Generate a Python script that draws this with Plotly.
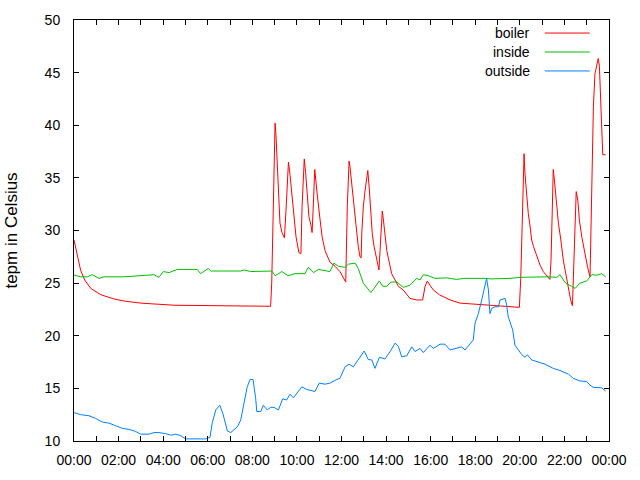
import plotly.graph_objects as go

# hours since midnight, values in degrees Celsius
boiler_hours = [0.00, 0.13, 0.30, 0.48, 0.75, 1.20, 1.79, 2.24, 2.99, 4.49, 5.97, 7.45, 8.82,
                8.87, 8.91, 8.94, 8.97, 9.02, 9.06, 9.11, 9.15, 9.20, 9.24, 9.33, 9.44,
                9.51, 9.56, 9.62, 9.69, 9.78, 9.87, 9.96, 10.09, 10.18,
                10.23, 10.29, 10.33, 10.39, 10.45, 10.54, 10.63, 10.68,
                10.74, 10.80, 10.89, 10.96, 11.04, 11.13, 11.26, 11.48, 11.71, 11.93, 12.19,
                12.26, 12.34, 12.38, 12.46, 12.53, 12.61, 12.68, 12.75, 12.83, 12.88,
                12.91, 12.98, 13.06, 13.13, 13.18, 13.25, 13.31, 13.38, 13.46, 13.55, 13.68,
                13.73, 13.79, 13.83, 13.88, 13.95, 14.03, 14.15, 14.25, 14.40, 14.55, 14.77,
                14.93, 15.07, 15.37, 15.64, 15.75, 15.85, 15.97, 16.12, 16.39, 16.87, 17.32,
                17.91, 18.66, 19.41, 19.98,
                20.04, 20.10, 20.14, 20.19, 20.23, 20.31, 20.38, 20.46, 20.53, 20.61, 20.76,
                20.91, 21.05, 21.21, 21.35,
                21.40, 21.46, 21.50, 21.55, 21.62, 21.73, 21.84, 21.95, 22.06, 22.18, 22.28, 22.36,
                22.40, 22.48, 22.53, 22.60, 22.67, 22.78, 22.92, 23.03, 23.15,
                23.18, 23.24, 23.30, 23.37, 23.45, 23.52, 23.57, 23.61, 23.66, 23.69, 23.72, 23.85]
boiler_temp = [29.1, 27.7, 26.2, 25.3, 24.5, 23.9, 23.5, 23.3, 23.1, 22.9, 22.85, 22.8, 22.8,
               25.0, 29.4, 33.7, 37.9, 40.2, 39.1, 37.0, 34.1, 32.2, 30.7, 29.8, 29.3,
               31.9, 34.5, 36.5, 35.3, 33.2, 31.0, 29.4, 27.9, 27.8,
               32.2, 35.1, 36.8, 35.5, 33.6, 31.3, 30.5, 29.8,
               32.6, 35.8, 33.85, 32.3, 31.0, 29.4, 28.1, 27.0, 26.6, 26.1, 25.1,
               32.3, 36.6, 36.06, 34.5, 32.9, 31.3, 29.7, 28.5, 27.5, 27.4,
               29.75, 32.3, 33.85, 35.1, 35.7, 33.85, 31.7, 29.7, 28.5, 27.5, 26.25,
               28.1, 31.0, 31.85, 31.0, 29.4, 28.1, 26.9, 25.9, 25.3, 24.7, 24.35,
               23.9, 23.55, 23.4, 23.4, 24.7, 25.2, 24.8, 24.35, 23.9, 23.4, 23.1,
               23.0, 22.9, 22.8, 22.7,
               25.4, 31.3, 35.4, 37.3, 35.4, 33.2, 31.6, 30.4, 29.1, 28.5, 27.5,
               26.7, 26.1, 25.7, 25.35,
               27.2, 31.3, 35.8, 34.8, 32.9, 30.7, 29.1, 27.2, 25.9, 24.35, 23.4, 22.85,
               25.3, 30.7, 33.7, 32.9, 31.0, 29.4, 27.8, 26.6, 25.6,
               29.1, 35.0, 41.8, 44.9, 45.6, 46.35, 45.6, 43.0, 40.5, 38.4, 37.2, 37.2]

inside_hours = [0.00, 0.30, 0.60, 0.82, 1.12, 1.35, 2.24, 3.22, 3.59, 3.81, 4.01, 4.26, 4.63,
                5.53, 5.68, 6.03, 6.13, 7.48, 7.63, 7.93, 8.38, 8.88, 9.02, 9.32, 9.61,
                9.91, 10.36, 10.51, 10.74, 10.96, 11.48, 11.66, 11.86, 12.16, 12.31, 12.61,
                12.75, 12.98, 13.32, 13.70, 13.85, 14.03, 14.21, 14.48, 14.77, 15.07, 15.37,
                15.52, 15.67, 15.90, 16.20, 16.72, 17.17, 17.47, 18.51, 18.66, 19.56, 20.01,
                21.21, 21.66, 21.80, 22.03, 22.48, 22.70, 23.00, 23.23, 23.45, 23.67, 23.85]
inside_temp = [25.77, 25.6, 25.6, 25.8, 25.45, 25.6, 25.6, 25.7, 25.8, 25.55, 26.1, 26.0, 26.3,
               26.3, 25.9, 26.4, 26.15, 26.15, 26.25, 26.1, 26.15, 26.15, 25.7, 26.1, 25.7,
               25.9, 25.9, 26.5, 26.0, 26.3, 26.1, 26.9, 26.6, 26.5, 26.8, 26.9,
               26.4, 25.0, 24.1, 25.2, 24.7, 24.7, 25.1, 25.1, 24.6, 24.8, 25.45,
               25.3, 25.8, 25.7, 25.45, 25.5, 25.35, 25.45, 25.45, 25.4, 25.45, 25.55,
               25.6, 25.55, 25.8, 25.05, 24.5, 25.0, 25.2, 25.8, 25.75, 25.9, 25.6]

outside_hours = [0.00, 0.30, 0.67, 0.97, 1.27, 1.57, 1.87, 2.17, 2.47, 2.77, 2.99, 3.36, 3.59,
                 3.81, 4.11, 4.34, 4.56, 4.79, 5.01, 5.91, 6.10, 6.20, 6.36, 6.54, 6.68, 6.88,
                 7.03, 7.33, 7.48, 7.63, 7.77, 7.90, 8.03, 8.15, 8.20, 8.38, 8.49, 8.67, 8.82,
                 8.97, 9.17, 9.36, 9.54, 9.69, 9.84, 10.22, 10.44, 10.81, 11.00, 11.26, 11.48,
                 11.79, 11.93, 12.16, 12.34, 12.53, 12.75, 13.02, 13.20, 13.36, 13.50, 13.70,
                 13.95, 14.18, 14.40, 14.55, 14.70, 14.93, 15.15, 15.30, 15.52, 15.67, 15.97,
                 16.12, 16.42, 16.64, 16.87, 17.17, 17.39, 17.54, 17.73, 17.91, 17.99, 18.14,
                 18.29, 18.51, 18.59, 18.66, 18.74, 18.89, 19.04, 19.11, 19.34, 19.41, 19.48,
                 19.56, 19.68, 19.78, 19.89, 20.09, 20.23, 20.34, 20.53, 20.76, 21.13, 21.50,
                 21.80, 22.18, 22.40, 22.70, 23.00, 23.15, 23.30, 23.67, 23.85]
outside_temp = [12.7, 12.5, 12.4, 12.15, 11.8, 11.7, 11.45, 11.2, 11.1, 10.9, 10.65, 10.65, 10.8,
                10.8, 10.7, 10.55, 10.65, 10.5, 10.2, 10.2, 10.35, 11.7, 12.95, 13.4, 12.6, 10.95,
                10.8, 11.35, 12.0, 13.6, 15.15, 15.85, 15.85, 14.05, 12.8, 12.8, 13.4, 12.95, 13.2,
                13.2, 12.95, 14.0, 13.9, 14.45, 14.1, 15.15, 14.9, 14.7, 15.5, 15.4, 15.5,
                15.85, 15.95, 17.05, 17.3, 17.05, 17.7, 18.55, 17.75, 17.7, 16.9, 17.95,
                17.8, 18.5, 19.3, 19.0, 18.0, 18.1, 18.95, 18.5, 18.8, 18.4, 19.1,
                18.8, 19.2, 19.2, 18.65, 18.8, 18.95, 18.65, 19.1, 19.6, 21.2, 22.1,
                23.4, 25.45, 24.35, 22.1, 22.6, 22.75, 22.75, 23.4, 23.55, 22.9, 21.8,
                21.35, 20.55, 19.1, 18.8, 18.2, 17.95, 18.2, 17.7, 17.55, 17.3, 16.9,
                16.7, 16.35, 15.95, 15.7, 15.65, 15.3, 15.1, 15.05, 14.75]

series_names = ['boiler', 'inside', 'outside']
series_colors = ['#ff0000', '#00c000', '#0080ff']

hour_ticks = list(range(0, 25))
hour_labels = ['00:00', '', '02:00', '', '04:00', '', '06:00', '', '08:00', '', '10:00', '',
               '12:00', '', '14:00', '', '16:00', '', '18:00', '', '20:00', '', '22:00', '', '00:00']

font_family = 'Liberation Sans, Arial, sans-serif'

fig = go.Figure()
for name, xs, ys, col in zip(series_names,
                             [boiler_hours, inside_hours, outside_hours],
                             [boiler_temp, inside_temp, outside_temp],
                             series_colors):
    fig.add_trace(go.Scatter(x=xs, y=ys, mode='lines', name=name,
                             line=dict(color=col, width=1)))

# gnuplot style key: right aligned text, line sample on the right
key_rows = [0.969, 0.924, 0.879]
for name, col, yk in zip(series_names, series_colors, key_rows):
    fig.add_annotation(x=0.856, y=yk, xref='paper', yref='paper', text=name,
                       showarrow=False, xanchor='right', yanchor='middle',
                       font=dict(size=14, color='black', family=font_family))
    fig.add_shape(type='line', xref='paper', yref='paper', x0=0.880, x1=0.964, y0=yk, y1=yk,
                  line=dict(color=col, width=1))

fig.update_xaxes(range=[0, 24], tickmode='array', tickvals=hour_ticks, ticktext=hour_labels,
                 ticks='inside', ticklen=5, tickcolor='black', mirror='ticks',
                 showline=True, linecolor='black', linewidth=1, showgrid=False, zeroline=False,
                 ticklabelstandoff=6)
fig.update_yaxes(range=[10, 50], tickmode='linear', tick0=10, dtick=5,
                 ticks='inside', ticklen=5, tickcolor='black', mirror='ticks',
                 showline=True, linecolor='black', linewidth=1, showgrid=False, zeroline=False,
                 ticklabelstandoff=10,
                 title=dict(text='tepm in Celsius', standoff=22))

fig.update_layout(
    width=640, height=480,
    margin=dict(l=74, r=31, t=20, b=39, autoexpand=False),
    plot_bgcolor='white', paper_bgcolor='white',
    font=dict(family=font_family, size=14, color='black'),
    showlegend=False,
)

# drop the default page margin so the figure sits at the window's corner
fig.write_html('out.html', config={'displayModeBar': False},
               post_script="document.body.style.margin='0';")
